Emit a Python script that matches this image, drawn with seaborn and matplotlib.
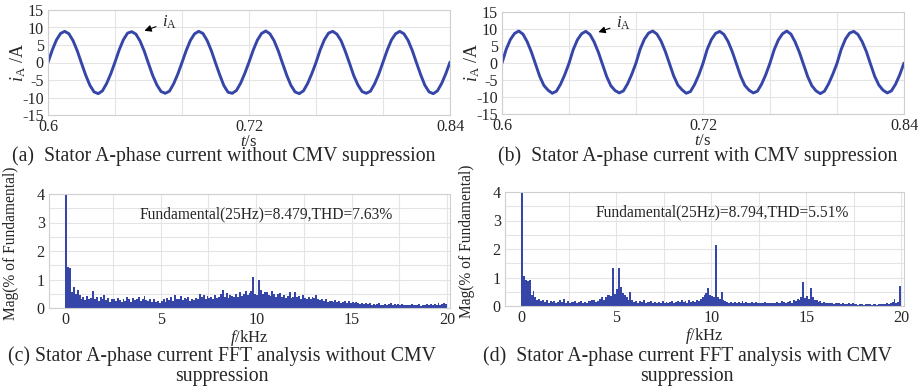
import numpy as np
import pandas as pd
import matplotlib
matplotlib.use('Agg')
import matplotlib.pyplot as plt
import seaborn as sns

t_start = 0.6
t_step = 0.0025
ia_without = [
    0.0, 3.5, 6.4, 8.3, 8.9, 8.2, 6.2, 3.3, -0.2, -3.6, -6.5, -8.4, -8.9, -8.1, -6.0, -3.2,
    0.1, 3.6, 6.5, 8.4, 8.8, 8.1, 6.1, 3.2, -0.3, -3.7, -6.4, -8.3, -8.8, -8.2, -6.1, -3.3,
    0.0, 3.4, 6.3, 8.2, 8.9, 8.3, 6.3, 3.4, -0.1, -3.5, -6.6, -8.5, -8.8, -8.0, -5.9, -3.1,
    0.1, 3.5, 6.4, 8.3, 9.0, 8.2, 6.2, 3.3, -0.2, -3.6, -6.5, -8.4, -8.9, -8.1, -6.0, -3.2,
    0.0, 3.6, 6.5, 8.4, 8.9, 8.1, 6.2, 3.2, -0.2, -3.7, -6.4, -8.3, -8.8, -8.2, -6.1, -3.3,
    0.1, 3.5, 6.4, 8.2, 8.9, 8.2, 6.3, 3.4, -0.1, -3.5, -6.5, -8.4, -8.9, -8.1, -6.0, -3.2,
    0.1]
ia_with = [
    0.0, 4.0, 6.9, 8.7, 9.4, 8.5, 6.3, 3.3, -0.3, -3.9, -6.6, -8.0, -8.9, -8.3, -6.2, -3.4,
    -0.1, 3.9, 6.8, 8.6, 9.3, 8.4, 6.2, 3.2, -0.4, -4.0, -6.7, -8.1, -8.8, -8.2, -6.1, -3.3,
    0.0, 4.1, 7.0, 8.8, 9.4, 8.5, 6.4, 3.4, -0.2, -3.8, -6.5, -7.9, -8.9, -8.4, -6.3, -3.5,
    -0.1, 4.0, 6.9, 8.7, 9.3, 8.4, 6.3, 3.3, -0.3, -3.9, -6.6, -8.0, -8.8, -8.3, -6.2, -3.4,
    0.0, 3.9, 6.8, 8.6, 9.4, 8.5, 6.2, 3.2, -0.4, -4.0, -6.7, -8.2, -9.0, -8.3, -6.1, -3.3,
    -0.1, 4.0, 7.0, 8.8, 9.3, 8.4, 6.3, 3.4, -0.3, -3.9, -6.5, -8.0, -8.8, -8.2, -6.2, -3.4,
    0.0]

# FFT magnitude (% of fundamental) in 0.1 kHz bins from 0 to 20 kHz
f_step = 0.1
mag_without = [
    100, 1.45, 1.40, 0.55, 0.75, 0.50, 0.62, 0.45, 0.30, 0.38,
    0.28, 0.42, 0.30, 0.35, 0.58, 0.32, 0.40, 0.25, 0.38, 0.30,
    0.45, 0.28, 0.35, 0.22, 0.33, 0.30, 0.25, 0.36, 0.28, 0.20,
    0.32, 0.26, 0.38, 0.30, 0.22, 0.35, 0.27, 0.30, 0.40, 0.24,
    0.30, 0.42, 0.28, 0.25, 0.33, 0.22, 0.30, 0.20, 0.26, 0.18,
    0.24, 0.30, 0.22, 0.35, 0.28, 0.38, 0.25, 0.45, 0.30, 0.33,
    0.42, 0.28, 0.35, 0.30, 0.40, 0.26, 0.33, 0.29, 0.36, 0.32,
    0.50, 0.38, 0.45, 0.32, 0.42, 0.35, 0.40, 0.30, 0.44, 0.36,
    0.38, 0.48, 0.63, 0.40, 0.52, 0.35, 0.45, 0.42, 0.38, 0.50,
    0.40, 0.55, 0.42, 0.48, 0.60, 0.45, 0.52, 0.58, 1.08, 0.50,
    0.45, 0.98, 0.62, 0.48, 0.55, 0.57, 0.45, 0.42, 0.60, 0.50,
    0.40, 0.48, 0.52, 0.38, 0.45, 0.35, 0.42, 0.55, 0.36, 0.40,
    0.55, 0.38, 0.42, 0.32, 0.45, 0.36, 0.30, 0.38, 0.33, 0.40,
    0.36, 0.45, 0.30, 0.28, 0.33, 0.25, 0.30, 0.22, 0.26, 0.24,
    0.22, 0.28, 0.20, 0.25, 0.18, 0.22, 0.26, 0.19, 0.23, 0.17,
    0.20, 0.16, 0.22, 0.18, 0.15, 0.19, 0.14, 0.17, 0.13, 0.16,
    0.12, 0.15, 0.11, 0.14, 0.18, 0.12, 0.10, 0.14, 0.11, 0.13,
    0.16, 0.10, 0.13, 0.09, 0.14, 0.11, 0.15, 0.10, 0.12, 0.09,
    0.11, 0.14, 0.09, 0.12, 0.10, 0.13, 0.08, 0.12, 0.10, 0.14,
    0.10, 0.13, 0.09, 0.15, 0.11, 0.16, 0.10, 0.14, 0.18, 0.15]
mag_with = [
    100, 1.05, 0.90, 0.88, 0.92, 0.40, 0.53, 0.30, 0.22, 0.25,
    0.18, 0.22, 0.15, 0.20, 0.12, 0.18, 0.14, 0.16, 0.12, 0.15,
    0.20, 0.14, 0.25, 0.12, 0.16, 0.10, 0.15, 0.13, 0.18, 0.11,
    0.14, 0.17, 0.12, 0.15, 0.11, 0.18, 0.16, 0.22, 0.20, 0.14,
    0.18, 0.25, 0.30, 0.22, 0.32, 0.38, 0.40, 0.35, 1.35, 0.42,
    0.60, 1.35, 0.65, 0.45, 0.38, 0.30, 0.22, 0.50, 0.20, 0.15,
    0.18, 0.12, 0.16, 0.14, 0.20, 0.11, 0.15, 0.13, 0.17, 0.12,
    0.14, 0.10, 0.15, 0.12, 0.18, 0.11, 0.14, 0.10, 0.13, 0.16,
    0.12, 0.15, 0.18, 0.13, 0.20, 0.14, 0.16, 0.12, 0.22, 0.15,
    0.18, 0.14, 0.20, 0.16, 0.25, 0.30, 0.38, 0.45, 0.62, 0.40,
    0.35, 0.30, 2.15, 0.32, 0.25, 0.48, 0.20, 0.16, 0.14, 0.12,
    0.15, 0.11, 0.13, 0.10, 0.14, 0.12, 0.16, 0.11, 0.13, 0.10,
    0.12, 0.14, 0.10, 0.13, 0.11, 0.09, 0.12, 0.10, 0.13, 0.11,
    0.10, 0.12, 0.09, 0.11, 0.14, 0.10, 0.12, 0.16, 0.13, 0.11,
    0.14, 0.18, 0.12, 0.22, 0.16, 0.25, 0.20, 0.30, 0.85, 0.28,
    0.35, 0.25, 0.62, 0.30, 0.20, 0.22, 0.15, 0.18, 0.12, 0.14,
    0.10, 0.12, 0.09, 0.11, 0.08, 0.10, 0.12, 0.09, 0.07, 0.10,
    0.08, 0.06, 0.09, 0.07, 0.10, 0.06, 0.08, 0.05, 0.07, 0.06,
    0.05, 0.07, 0.06, 0.08, 0.05, 0.06, 0.07, 0.05, 0.06, 0.08,
    0.06, 0.07, 0.10, 0.08, 0.12, 0.14, 0.25, 0.10, 0.15, 0.70]

fft_notes = ['Fundamental(25Hz)=8.479,THD=7.63%', 'Fundamental(25Hz)=8.794,THD=5.51%']
captions = ['(a)  Stator A-phase current without CMV suppression',
            '(b)  Stator A-phase current with CMV suppression',
            '(c) Stator A-phase current FFT analysis without CMV\nsuppression',
            '(d)  Stator A-phase current FFT analysis with CMV\nsuppression']

sns.set_style('white')
plt.rcParams['font.family'] = ['Liberation Serif', 'DejaVu Serif']
plt.rcParams['mathtext.fontset'] = 'custom'
plt.rcParams['mathtext.rm'] = 'Liberation Serif'
plt.rcParams['mathtext.it'] = 'Liberation Serif:italic'
plt.rcParams['axes.unicode_minus'] = False

blue = '#3646a8'
grid_c = '#e4e4e4'
spine_c = '#cfcfcf'

fig = plt.figure(figsize=(9.18, 3.86), dpi=100)
W, H = 918, 386


def box(l, t, r, b):
    return [l / W, 1 - b / H, (r - l) / W, (b - t) / H]


def style(ax):
    for s in ax.spines.values():
        s.set_color(spine_c)
        s.set_linewidth(0.8)
    ax.grid(True, which='both', color=grid_c, linewidth=0.8)
    ax.tick_params(which='both', length=0, labelsize=11.6, pad=3)
    ax.set_axisbelow(True)


n = len(ia_without)
t = np.round(t_start + t_step * np.arange(n), 4)
wave_axes = [fig.add_axes(box(48, 10, 450, 115)), fig.add_axes(box(502, 12, 904, 114))]
for ax, ia in zip(wave_axes, [ia_without, ia_with]):
    df = pd.DataFrame({'t': t, 'ia': ia})
    sns.lineplot(data=df, x='t', y='ia', ax=ax, color=blue, linewidth=2.1)
    ax.set_xlim(0.6, 0.84)
    ax.set_ylim(-15, 15)
    ax.set_xticks([0.6, 0.72, 0.84])
    ax.set_xticklabels(['0.6', '0.72', '0.84'])
    ax.set_xticks(np.arange(0.64, 0.84, 0.04), minor=True)
    ax.set_yticks(range(-15, 16, 5))
    style(ax)
    ax.set_xlabel(r'$t$/s', fontsize=12, labelpad=-1)
    ax.set_ylabel(r'$i_{\mathrm{A}}$ /A', fontsize=13, labelpad=0)
    ax.yaxis.set_label_coords(-0.05, 0.5)
    ax.annotate(r'$i_{\mathrm{A}}$', xy=(0.656, 8.8), xytext=(0.668, 11.6),
                fontsize=12, va='center',
                arrowprops=dict(arrowstyle='-|>', color='black', lw=0.8, mutation_scale=10))

n_bins = len(mag_without)
centers = np.round((np.arange(n_bins) + 0.5) * f_step, 3)
fft_axes = [fig.add_axes(box(49, 194, 450, 308)), fig.add_axes(box(505, 192, 904, 306))]
for ax, mag, note in zip(fft_axes, [mag_without, mag_with], fft_notes):
    spec = pd.DataFrame({'f': centers, 'mag': mag})
    sns.histplot(data=spec, x='f', weights='mag', binwidth=f_step,
                 binrange=(0, n_bins * f_step), ax=ax, color=blue,
                 alpha=1, edgecolor=None, linewidth=0)
    ax.set_xlim(-0.85, 20.15)
    ax.set_ylim(0, 4)
    ax.set_xticks([0, 5, 10, 15, 20])
    ax.set_xticks([2.5, 7.5, 12.5, 17.5], minor=True)
    ax.set_yticks([0, 1, 2, 3, 4])
    ax.set_yticks([0.5, 1.5, 2.5, 3.5], minor=True)
    style(ax)
    ax.set_xlabel(r'$f$/kHz', fontsize=12, labelpad=0)
    ax.set_ylabel('Mag(% of Fundamental)', fontsize=11.2)
    ax.yaxis.set_label_coords(-0.075, 0.57)
    ax.text(3.9, 3.3, note, fontsize=11.2, va='center')

fig.text(224 / W, 1 - 156 / H, captions[0], fontsize=14.2, ha='center', va='center')
fig.text(698 / W, 1 - 156 / H, captions[1], fontsize=14.2, ha='center', va='center')
fig.text(222 / W, 1 - 366 / H, captions[2], fontsize=14.2, ha='center', va='center',
         linespacing=1.08)
fig.text(687 / W, 1 - 366 / H, captions[3], fontsize=14.2, ha='center', va='center',
         linespacing=1.08)

fig.savefig('out.png', dpi=100)
